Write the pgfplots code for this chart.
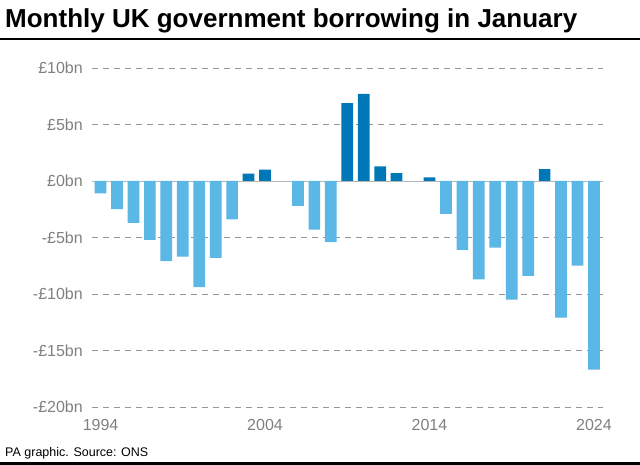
\documentclass[border=0pt]{standalone}
\usepackage{pgfplots}
\pgfplotsset{compat=1.18}
\usepackage{fontspec}
\setmainfont{Liberation Sans}
\definecolor{lightbar}{RGB}{91,183,229}
\definecolor{darkbar}{RGB}{0,119,182}
\definecolor{ticktxt}{RGB}{128,128,128}
\definecolor{gridc}{RGB}{150,150,150}

\begin{document}
\begin{tikzpicture}
  \path[use as bounding box] (0,0) rectangle (640pt,465pt);
  % title + rules
  \node[anchor=base west,inner sep=0pt] at (5pt,437pt) {\fontsize{26}{30}\selectfont\bfseries Monthly UK government borrowing in January};
  \draw[line width=1.5pt] (0,426pt) -- (640pt,426pt);
  \node[anchor=base west,inner sep=0pt] at (5pt,8.5pt) {\fontsize{12.5}{14}\selectfont PA graphic. Source: ONS};
  \fill (0,0) rectangle (640pt,3pt);

  \begin{axis}[at={(92pt,58pt)},anchor=south west,scale only axis,
    width=511pt,height=339pt,
    xmin=1993.48,xmax=2024.55,ymin=-20,ymax=10,
    axis line style={draw=none},major tick length=0pt,
    ytick={-20,-15,-10,-5,0,5,10},
    yticklabels={-£20bn,-£15bn,-£10bn,-£5bn,£0bn,£5bn,£10bn},
    xtick={1994,2004,2014,2024},xticklabels={1994,2004,2014,2024},
    ticklabel style={font=\fontsize{16}{18}\selectfont,text=ticktxt},
    yticklabel style={anchor=east,inner sep=0pt,xshift=-9pt},
    xticklabel style={anchor=north,inner sep=0pt,yshift=-12pt},
    ymajorgrids,major grid style={gridc,dash pattern=on 6pt off 5pt,line width=0.7pt},
    clip=false]
    \draw[gridc!70,line width=0.6pt] (axis cs:1993.48,0) -- (axis cs:2024.55,0);
    % negative January balances
    \addplot[ybar,bar width=11.7pt,bar shift=0pt,fill=lightbar,draw=none] coordinates {
      (1994,-1.1) (1995,-2.5) (1996,-3.7) (1997,-5.2) (1998,-7.1) (1999,-6.7)
      (2000,-9.4) (2001,-6.8) (2002,-3.4) (2006,-2.2) (2007,-4.3) (2008,-5.4)
      (2015,-2.9) (2016,-6.1) (2017,-8.7) (2018,-5.9) (2019,-10.5) (2020,-8.4)
      (2022,-12.1) (2023,-7.5) (2024,-16.7)};
    % positive January balances
    \addplot[ybar,bar width=11.7pt,bar shift=0pt,fill=darkbar,draw=none] coordinates {
      (2003,0.65) (2004,1.0) (2009,6.9) (2010,7.7) (2011,1.3) (2012,0.7)
      (2014,0.32) (2021,1.06)};
  \end{axis}
\end{tikzpicture}
\end{document}
